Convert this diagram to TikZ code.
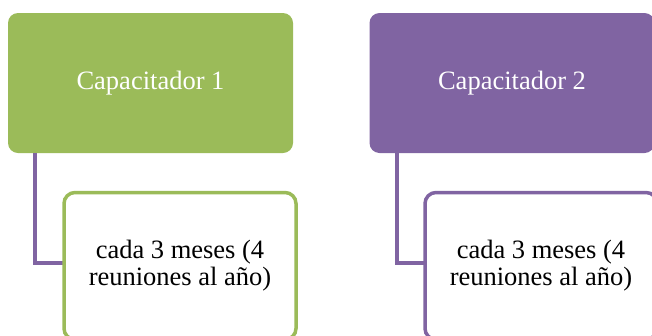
\documentclass[tikz,border=0pt]{standalone}
\usepackage{fontspec}
\setmainfont{Liberation Serif}
\definecolor{cgreen}{HTML}{9BBB59}
\definecolor{cpurple}{HTML}{8064A2}
\begin{document}
\begin{tikzpicture}[x=1pt,y=-1pt,
  parent/.style={rounded corners=10pt, minimum width=285pt, minimum height=140pt, inner sep=0pt, text=white, font=\fontsize{26.5}{30}\selectfont},
  child/.style={rounded corners=11pt, line width=3.5pt, fill=white, minimum width=232pt, minimum height=147pt, inner sep=0pt, align=center, font=\fontsize{26.5}{27}\selectfont},
  conn/.style={line width=3.5pt, cpurple}]
\useasboundingbox (0,0) rectangle (652,335);
\clip (0,0) rectangle (652,335);
\node[parent, fill=cgreen] (p1) at (150.5,83) {Capacitador 1};
\node[parent, fill=cpurple] (p2) at (512,83) {Capacitador 2};
\coordinate (c1) at (35,263);
\coordinate (c2) at (397,263);
\draw[conn] (p1.south -| c1) -- (c1) -- (c1 -| 64,0);
\draw[conn] (p2.south -| c2) -- (c2) -- (c2 -| 425,0);
\node[child, draw=cgreen] (k1) at (180,266) {cada 3 meses (4\\reuniones al año)};
\node[child, draw=cpurple] (k2) at (541,266) {cada 3 meses (4\\reuniones al año)};
\end{tikzpicture}
\end{document}
